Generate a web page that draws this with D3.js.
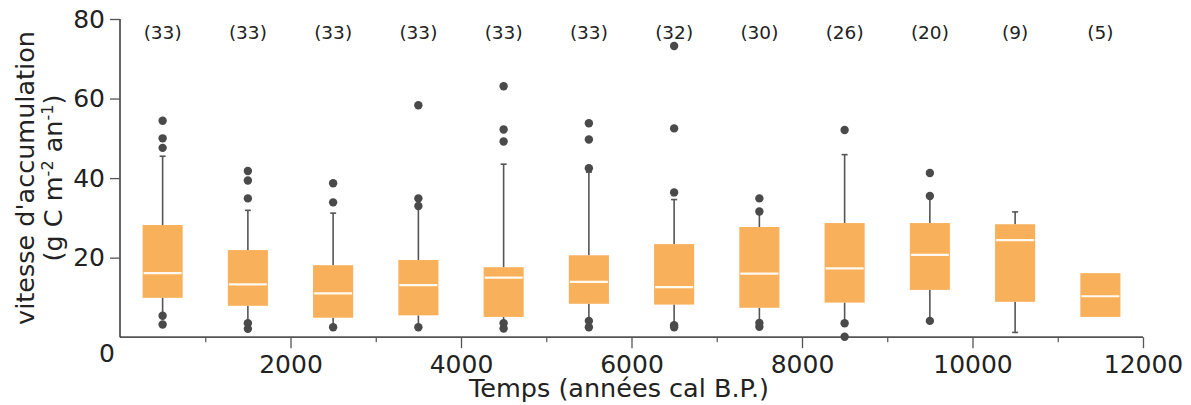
<!DOCTYPE html>
<html><head><meta charset="utf-8">
<script src="https://cdn.jsdelivr.net/npm/d3@7"></script>
<style>body{margin:0;background:#fff;} text{font-family:"DejaVu Sans",sans-serif;fill:#222;}</style>
</head><body><svg id="c" width="1191" height="405"></svg>
<script>
const centers = [500,1500,2500,3500,4500,5500,6500,7500,8500,9500,10500,11500];
const counts = [33,33,33,33,33,33,32,30,26,20,9,5];
const q1 = [9.9,7.9,4.9,5.5,5.1,8.4,8.2,7.4,8.7,11.9,8.9,5.1];
const median = [16.1,13.3,11.0,13.1,15.0,13.9,12.6,16.0,17.3,20.7,24.4,10.3];
const q3 = [28.2,21.9,18.1,19.4,17.6,20.6,23.4,27.7,28.7,28.7,28.4,16.1];
const whiskerLow = [5.4,3.5,2.5,2.5,3.5,4.1,3.0,3.6,3.5,4.1,1.2,5.1];
const whiskerHigh = [45.5,31.9,31.2,32.8,43.5,41.5,34.6,31.2,45.9,35.3,31.5,16.1];
const outliers = [
  [54.4,50.0,47.6,5.4,3.2],
  [41.8,39.4,34.9,3.5,2.1],
  [38.7,33.9,2.5],
  [58.3,34.9,33.0,2.5],
  [63.1,52.2,49.2,3.5,2.2],
  [53.8,49.7,42.5,4.1,2.5],
  [73.2,52.5,36.4,3.0,2.5],
  [34.9,31.6,3.6,2.6],
  [52.1,3.5,0.1],
  [41.3,35.5,4.1],
  [],
  []
];
const xTicks = [2000,4000,6000,8000,10000,12000];
const xMinorTicks = [1000,3000,5000,7000,9000,11000];
const yTicks = [20,40,60,80];

const svg = d3.select("#c");
const x = d3.scaleLinear().domain([0,12000]).range([120,1143]);
const y = d3.scaleLinear().domain([0,80]).range([337.2,19]);
const axisCol = "#555";
const boxW = x(470)-x(0);

// axes
const xa = svg.append("g").attr("transform",`translate(0,${y(0)})`)
  .call(d3.axisBottom(x).tickValues(xTicks).tickSize(11).tickPadding(7).tickFormat(d3.format("d")));
xa.select(".domain").attr("stroke",axisCol).attr("stroke-width",1.8).attr("d",`M${x(0)},0H${x(12000)}`);
xa.selectAll(".tick line").attr("stroke",axisCol).attr("stroke-width",1.3);
xa.selectAll(".tick text").style("font-size","25px").attr("fill","#222").attr("font-family","DejaVu Sans");
const xm = svg.append("g").attr("transform",`translate(0,${y(0)})`)
  .call(d3.axisBottom(x).tickValues(xMinorTicks).tickSize(5).tickFormat(""));
xm.select(".domain").remove();
xm.selectAll(".tick line").attr("stroke",axisCol).attr("stroke-width",1.2);

const ya = svg.append("g").attr("transform",`translate(${x(0)},0)`)
  .call(d3.axisLeft(y).tickValues(yTicks).tickSize(10).tickPadding(5));
ya.select(".domain").attr("stroke","#333").attr("stroke-width",1.5).attr("d",`M0,${y(80)}V${y(0)}`);
ya.selectAll(".tick line").attr("stroke",axisCol).attr("stroke-width",1.3);
ya.selectAll(".tick text").style("font-size","25px").attr("fill","#222").attr("font-family","DejaVu Sans");

svg.append("text").attr("x",x(0)-13).attr("y",y(0)+25).attr("text-anchor","middle")
  .style("font-size","25px").text("0");

// boxes
const g = svg.append("g");
centers.forEach((c,i)=>{
  const cx = x(c);
  if (whiskerHigh[i] > q3[i]) {
    g.append("line").attr("x1",cx).attr("x2",cx).attr("y1",y(q3[i])).attr("y2",y(whiskerHigh[i])).attr("stroke","#555").attr("stroke-width",1.6);
    g.append("line").attr("x1",cx-3).attr("x2",cx+3).attr("y1",y(whiskerHigh[i])).attr("y2",y(whiskerHigh[i])).attr("stroke","#555").attr("stroke-width",1.6);
  }
  if (whiskerLow[i] < q1[i]) {
    g.append("line").attr("x1",cx).attr("x2",cx).attr("y1",y(q1[i])).attr("y2",y(whiskerLow[i])).attr("stroke","#555").attr("stroke-width",1.6);
    g.append("line").attr("x1",cx-3).attr("x2",cx+3).attr("y1",y(whiskerLow[i])).attr("y2",y(whiskerLow[i])).attr("stroke","#555").attr("stroke-width",1.6);
  }
  g.append("rect").attr("x",cx-boxW/2).attr("width",boxW).attr("y",y(q3[i])).attr("height",y(q1[i])-y(q3[i])).attr("fill","#f9b05a");
  g.append("line").attr("x1",cx-boxW/2+1).attr("x2",cx+boxW/2-1).attr("y1",y(median[i])).attr("y2",y(median[i])).attr("stroke","#fffaf0").attr("stroke-width",2.2);
  outliers[i].forEach(v=>{
    g.append("circle").attr("cx",cx).attr("cy",y(v)).attr("r",4.2).attr("fill","#4a4a4a");
  });
  svg.append("text").attr("x",cx).attr("y",y(76.6)).attr("dy","0.35em").attr("text-anchor","middle")
    .style("font-size","18.5px").text(`(${counts[i]})`);
});

// labels
svg.append("text").attr("x",619).attr("y",397).attr("text-anchor","middle").style("font-size","25.5px").text("Temps (années cal B.P.)");
const yl = svg.append("g").attr("transform","translate(0,178) rotate(-90)");
yl.append("text").attr("x",0).attr("y",34).attr("text-anchor","middle").style("font-size","25.5px").text("vitesse d'accumulation");
const t2 = yl.append("text").attr("x",0).attr("y",62).attr("text-anchor","middle").style("font-size","25.5px");
t2.append("tspan").text("(g C m");
t2.append("tspan").attr("baseline-shift","super").style("font-size","16px").text("-2");
t2.append("tspan").text(" an");
t2.append("tspan").attr("baseline-shift","super").style("font-size","16px").text("-1");
t2.append("tspan").text(")");
</script></body></html>
